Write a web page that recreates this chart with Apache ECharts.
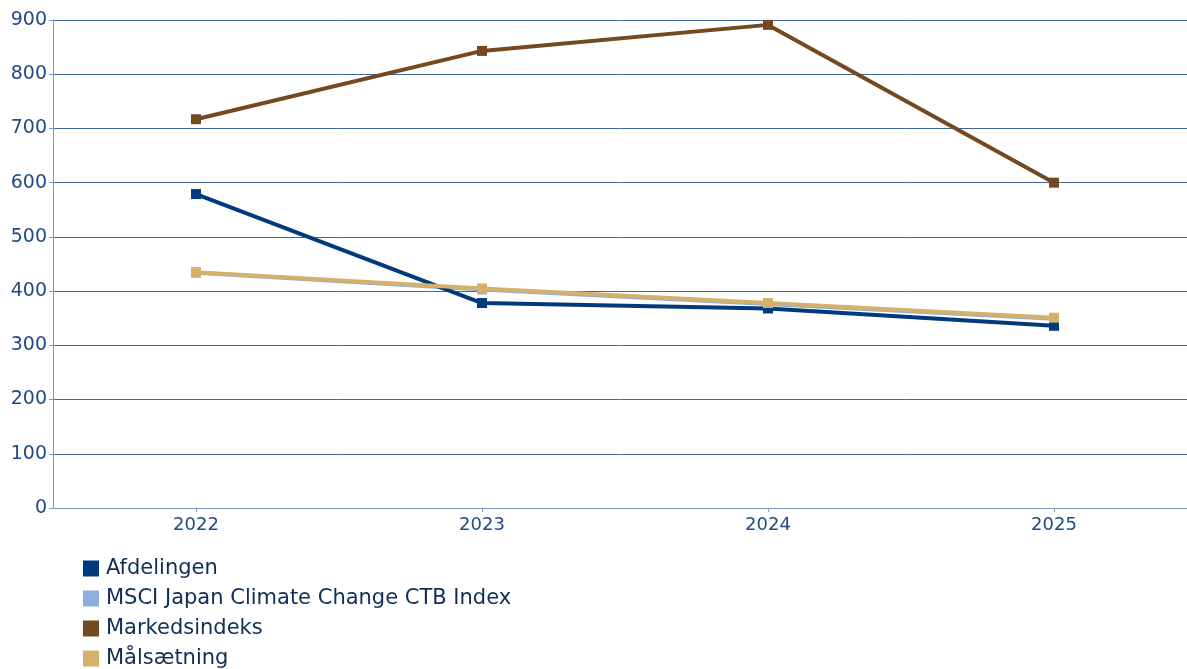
<!DOCTYPE html>
<html>
<head>
<meta charset="utf-8">
<script src="https://cdn.jsdelivr.net/npm/echarts@6/dist/echarts.min.js"></script>
<style>
  html, body { margin: 0; padding: 0; background: #fff; }
  #main { width: 1187px; height: 669px; }
</style>
</head>
<body>
<div id="main"></div>
<script>
var years = ["2022", "2023", "2024", "2025"];
var afdelingen = [579, 378, 368, 336];
var msciJapan = [434, 403, 376, 349];
var markedsindeks = [717, 843, 891, 600];
var maalsaetning = [435, 405, 378, 351];

window.onload = function () {
  var chartDom = document.getElementById("main");
  var myChart = echarts.init(chartDom);
  var option;

  function line(name, data, color, z) {
    return {
      name: name,
      type: "line",
      data: data,
      z: z,
      symbol: "rect",
      symbolSize: 10,
      showSymbol: true,
      lineStyle: { color: color, width: 4 },
      itemStyle: { color: color },
      animation: false
    };
  }

  option = {
    textStyle: { fontFamily: "DejaVu Sans" },
    grid: { left: 53, top: 20, width: 1144, height: 488, containLabel: false, outerBoundsMode: "none" },
    legend: {
      orient: "vertical",
      left: 78,
      top: 553,
      height: 300,
      icon: "rect",
      itemWidth: 16,
      itemHeight: 16,
      itemGap: 9,
      textStyle: { fontSize: 21, color: "#0f2e55", padding: [0, 0, 0, 2] },
      data: ["Afdelingen", "MSCI Japan Climate Change CTB Index", "Markedsindeks", "Målsætning"]
    },
    xAxis: {
      type: "category",
      data: years,
      boundaryGap: true,
      axisLine: { lineStyle: { color: "#7d9ac2", width: 1 } },
      axisTick: { show: true, alignWithLabel: true, length: 4, lineStyle: { color: "#7d9ac2" } },
      axisLabel: { fontSize: 18, color: "#1f4a82", margin: 8 }
    },
    yAxis: {
      type: "value",
      min: 0,
      max: 900,
      interval: 100,
      axisLine: { show: true, lineStyle: { color: "#7d9ac2", width: 1 } },
      axisTick: { show: true, length: 4, lineStyle: { color: "#7d9ac2" } },
      axisLabel: { fontSize: 19, color: "#1f4a82", margin: 6 },
      splitLine: { lineStyle: { color: "#3f669e", width: 1 } }
    },
    series: [
      line("Afdelingen", afdelingen, "#003a7d", 4),
      line("MSCI Japan Climate Change CTB Index", msciJapan, "#8eaee0", 2),
      line("Markedsindeks", markedsindeks, "#74491f", 3),
      line("Målsætning", maalsaetning, "#d4b06a", 5)
    ]
  };

  option && myChart.setOption(option);
};
</script>
</body>
</html>
